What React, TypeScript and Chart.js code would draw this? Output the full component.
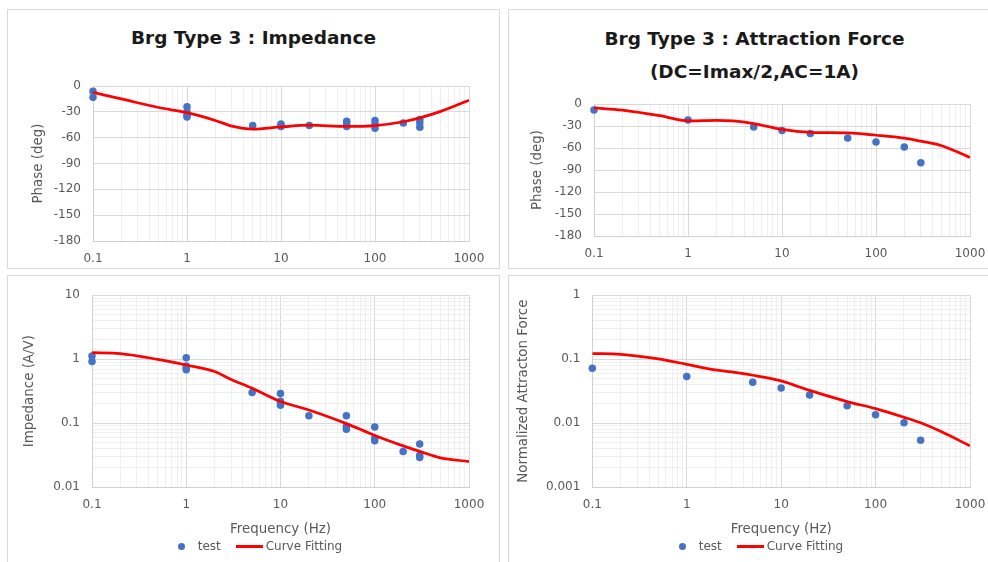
import React, { useEffect, useRef } from 'react';
import { Chart, registerables } from 'chart.js';

Chart.register(...registerables);

// ---------- data ----------
const freqTickLabels = ['0.1', '1', '10', '100', '1000'];
const phaseTickLabels = ['0', '-30', '-60', '-90', '-120', '-150', '-180'];
const impTickLabels = ['0.01', '0.1', '1', '10'];
const forceTickLabels = ['0.001', '0.01', '0.1', '1'];

const curveFreq = [0.1, 0.2, 0.5, 1, 2, 3, 5, 10, 20, 50, 100, 200, 300, 500, 1000];

// Impedance phase
const impPhaseTestFreq = [0.1, 0.1, 1, 1, 1, 1, 5, 10, 10, 10, 20, 50, 50, 50, 100, 100, 100, 200, 300, 300, 300];
const impPhaseTest = [-6, -13, -24, -30, -34, -36, -46, -44, -46, -47, -46, -41, -44, -47, -40, -44, -49, -43, -39, -43, -48];
const impPhaseCurve = [-7.5, -15, -25, -31, -40, -46.5, -50, -47.5, -45.5, -47, -46, -41.5, -37, -29.5, -16.5];

// Attraction force phase
const forcePhaseTestFreq = [0.1, 1, 5, 10, 20, 50, 100, 200, 300];
const forcePhaseTest = [-8, -21.5, -31, -36, -40, -46, -51.5, -58.5, -80];
const forcePhaseCurve = [-5, -8, -15.6, -22.8, -22, -22.8, -26.4, -34.4, -38.4, -39.3, -42.4, -46.4, -50.5, -56.7, -72.8];

// Impedance magnitude
const impMagTestFreq = [0.1, 0.1, 1, 1, 1, 1, 5, 10, 10, 10, 10, 20, 50, 50, 50, 100, 100, 100, 200, 300, 300, 300];
const impMagTest = [1.12, 0.92, 1.05, 0.78, 0.72, 0.68, 0.3, 0.29, 0.22, 0.2, 0.19, 0.13, 0.13, 0.088, 0.08, 0.087, 0.058, 0.053, 0.036, 0.047, 0.031, 0.029];
const impMagCurve = [1.26, 1.22, 0.99, 0.81, 0.64, 0.48, 0.35, 0.217, 0.16, 0.098, 0.064, 0.044, 0.036, 0.0286, 0.025];

// Normalized attraction force
const forceMagTestFreq = [0.1, 1, 5, 10, 20, 50, 100, 200, 300];
const forceMagTest = [0.072, 0.0535, 0.0435, 0.0355, 0.0276, 0.0187, 0.0135, 0.0101, 0.0054];
const forceMagCurve = [0.122, 0.119, 0.101, 0.083, 0.068, 0.063, 0.056, 0.0456, 0.0324, 0.0217, 0.0168, 0.0123, 0.0101, 0.0073, 0.0044];

// ---------- styles ----------
const FONT = '"DejaVu Sans", Verdana, sans-serif';
const BLUE = '#4472C4';
const RED = '#FF0000';
const TICK = '#595959';
const MAJOR = '#d9d9d9';
const MINOR = '#efefef';
const BORDER = '#d0d0d0';

function isDecade(v: number) {
  if (!(v > 0)) return false;
  const l = Math.log10(v);
  return Math.abs(l - Math.round(l)) < 1e-9;
}

function logTickValues(labels: string[]) {
  const lo = Math.round(Math.log10(parseFloat(labels[0])));
  const hi = Math.round(Math.log10(parseFloat(labels[labels.length - 1])));
  const out: number[] = [];
  for (let e = lo; e < hi; e++) {
    for (let m = 1; m < 10; m++) out.push(parseFloat((m * Math.pow(10, e)).toPrecision(6)));
  }
  out.push(parseFloat(labels[labels.length - 1]));
  return out;
}

function labelFor(v: number, labels: string[]) {
  for (const l of labels) {
    const n = parseFloat(l);
    if (Math.abs(n - v) <= 1e-9 * Math.max(1, Math.abs(v))) return l;
  }
  return '';
}

type ChartSpec = {
  left: number; top: number; width: number; height: number;
  padTop: number; padRight: number;
  yAxisWidth: number; yTitle: string; yTitlePad: number;
  xAxisHeight: number; xTitle?: string; xTitlePadBottom?: number;
  yLog: boolean; yLabels: string[];
  testX: number[]; testY: number[]; curveY: number[];
};

function makeConfig(p: ChartSpec): any {
  const tickFont = { family: FONT, size: 12 };
  const titleFont = { family: FONT, size: 13.4 };
  const yLabelNums = p.yLabels.map((l) => parseFloat(l));
  const yMin = Math.min(...yLabelNums);
  const yMax = Math.max(...yLabelNums);
  const yScale: any = p.yLog
    ? {
        type: 'logarithmic',
        min: yMin,
        max: yMax,
        afterBuildTicks: (s: any) => {
          s.ticks = logTickValues(p.yLabels).map((v) => ({ value: v }));
        },
        grid: {
          color: (ctx: any) => (ctx.tick && isDecade(ctx.tick.value) ? MAJOR : MINOR),
          drawTicks: false,
        },
      }
    : {
        type: 'linear',
        min: yMin,
        max: yMax,
        afterBuildTicks: (s: any) => {
          s.ticks = yLabelNums.slice().sort((a, b) => a - b).map((v) => ({ value: v }));
        },
        grid: { color: MAJOR, drawTicks: false },
      };
  Object.assign(yScale, {
    position: 'left',
    afterFit: (s: any) => {
      s.width = p.yAxisWidth;
    },
    border: { display: true, color: BORDER, width: 1 },
    ticks: {
      autoSkip: false,
      padding: 12,
      color: TICK,
      font: tickFont,
      callback: (v: any) => labelFor(Number(v), p.yLabels),
    },
    title: {
      display: true,
      text: p.yTitle,
      color: TICK,
      font: titleFont,
      padding: { top: p.yTitlePad, bottom: 0 },
    },
  });

  return {
    type: 'scatter',
    data: {
      datasets: [
        {
          label: 'test',
          data: p.testX.map((x, i) => ({ x, y: p.testY[i] })),
          backgroundColor: BLUE,
          borderColor: BLUE,
          borderWidth: 0,
          pointRadius: 3.75,
          pointHoverRadius: 3.75,
          showLine: false,
          clip: false,
          order: 1,
        },
        {
          label: 'Curve Fitting',
          type: 'line',
          data: curveFreq.map((x, i) => ({ x, y: p.curveY[i] })),
          borderColor: RED,
          backgroundColor: RED,
          borderWidth: 2.75,
          pointRadius: 0,
          pointHoverRadius: 0,
          showLine: true,
          fill: false,
          cubicInterpolationMode: 'monotone',
          order: 0,
        },
      ],
    },
    options: {
      responsive: false,
      animation: false,
      events: [],
      layout: { padding: { top: p.padTop, right: p.padRight, left: 0, bottom: 0 } },
      plugins: {
        legend: { display: false },
        tooltip: { enabled: false },
        title: { display: false },
      },
      scales: {
        x: {
          type: 'logarithmic',
          position: 'bottom',
          min: parseFloat(freqTickLabels[0]),
          max: parseFloat(freqTickLabels[freqTickLabels.length - 1]),
          afterBuildTicks: (s: any) => {
            s.ticks = logTickValues(freqTickLabels).map((v) => ({ value: v }));
          },
          afterFit: (s: any) => {
            s.height = p.xAxisHeight;
          },
          border: { display: true, color: BORDER, width: 1 },
          grid: {
            color: (ctx: any) => (ctx.tick && isDecade(ctx.tick.value) ? MAJOR : MINOR),
            drawTicks: false,
          },
          ticks: {
            autoSkip: false,
            maxRotation: 0,
            minRotation: 0,
            padding: 11,
            color: TICK,
            font: tickFont,
            callback: (v: any) => labelFor(Number(v), freqTickLabels),
          },
          title: p.xTitle
            ? {
                display: true,
                text: p.xTitle,
                color: TICK,
                font: titleFont,
                padding: { top: 0, bottom: p.xTitlePadBottom || 0 },
              }
            : { display: false },
        },
        y: yScale,
      },
    },
  };
}

function ChartCanvas({ spec }: { spec: ChartSpec }) {
  const ref = useRef<HTMLCanvasElement | null>(null);
  useEffect(() => {
    if (!ref.current) return;
    const chart = new Chart(ref.current, makeConfig(spec));
    return () => chart.destroy();
  }, []);
  return (
    <canvas
      ref={ref}
      width={spec.width}
      height={spec.height}
      style={{
        position: 'absolute',
        left: spec.left,
        top: spec.top,
        width: spec.width,
        height: spec.height,
      }}
    />
  );
}

function Legend({ x0 }: { x0: number }) {
  const cy = 546.7;
  const txt: React.CSSProperties = {
    position: 'absolute',
    top: cy - 7.5,
    height: 15,
    lineHeight: '15px',
    fontFamily: FONT,
    fontSize: 12,
    color: TICK,
    whiteSpace: 'nowrap',
  };
  return (
    <>
      <div
        style={{
          position: 'absolute',
          left: x0 - 3.75,
          top: cy - 3.75,
          width: 7.5,
          height: 7.5,
          borderRadius: '50%',
          background: BLUE,
        }}
      />
      <div style={{ ...txt, left: x0 + 16 }}>test</div>
      <div
        style={{
          position: 'absolute',
          left: x0 + 54.3,
          top: cy - 1.4,
          width: 27.3,
          height: 2.8,
          background: RED,
        }}
      />
      <div style={{ ...txt, left: x0 + 84 }}>Curve Fitting</div>
    </>
  );
}

const panelStyle = (left: number, top: number, width: number, height: number): React.CSSProperties => ({
  position: 'absolute',
  left,
  top,
  width: width - 2,
  height: height - 2,
  border: '1px solid #d9d9d9',
  background: '#ffffff',
});

const titleStyle: React.CSSProperties = {
  position: 'absolute',
  textAlign: 'center',
  fontFamily: FONT,
  fontWeight: 'bold',
  fontSize: 18.5,
  color: '#1a1a1a',
  whiteSpace: 'nowrap',
};

export default function App() {
  const specs: ChartSpec[] = [
    {
      left: 8, top: 60, width: 491, height: 205,
      padTop: 26, padRight: 30,
      yAxisWidth: 85, yTitle: 'Phase (deg)', yTitlePad: 22,
      xAxisHeight: 24,
      yLog: false, yLabels: phaseTickLabels,
      testX: impPhaseTestFreq, testY: impPhaseTest, curveY: impPhaseCurve,
    },
    {
      left: 509, top: 85, width: 491, height: 175,
      padTop: 17, padRight: 30,
      yAxisWidth: 85, yTitle: 'Phase (deg)', yTitlePad: 20.7,
      xAxisHeight: 24,
      yLog: false, yLabels: phaseTickLabels,
      testX: forcePhaseTestFreq, testY: forcePhaseTest, curveY: forcePhaseCurve,
    },
    {
      left: 8, top: 276, width: 491, height: 264,
      padTop: 10, padRight: 30,
      yAxisWidth: 84, yTitle: 'Impedance (A/V)', yTitlePad: 13.3,
      xAxisHeight: 53, xTitle: 'Frequency (Hz)', xTitlePadBottom: 2.7,
      yLog: true, yLabels: impTickLabels,
      testX: impMagTestFreq, testY: impMagTest, curveY: impMagCurve,
    },
    {
      left: 509, top: 276, width: 491, height: 264,
      padTop: 10, padRight: 30,
      yAxisWidth: 83.3, yTitle: 'Normalized Attracton Force', yTitlePad: 6.3,
      xAxisHeight: 53, xTitle: 'Frequency (Hz)', xTitlePadBottom: 2.7,
      yLog: true, yLabels: forceTickLabels,
      testX: forceMagTestFreq, testY: forceMagTest, curveY: forceMagCurve,
    },
  ];

  return (
    <div
      style={{
        position: 'absolute',
        left: 0,
        top: 0,
        width: 988,
        height: 562,
        overflow: 'hidden',
        background: '#ffffff',
      }}
    >
      <div style={panelStyle(7, 9, 493, 260)} />
      <div style={panelStyle(508, 9, 493, 260)} />
      <div style={panelStyle(7, 275, 493, 300)} />
      <div style={panelStyle(508, 275, 493, 300)} />

      <div style={{ ...titleStyle, left: 7, width: 493, top: 25.5, height: 24, lineHeight: '24px' }}>
        Brg Type 3 : Impedance
      </div>
      <div style={{ ...titleStyle, left: 508, width: 493, top: 21.5, lineHeight: '33px' }}>
        Brg Type 3 : Attraction Force
        <br />
        (DC=Imax/2,AC=1A)
      </div>

      {specs.map((s, i) => (
        <ChartCanvas key={i} spec={s} />
      ))}

      <Legend x0={181.7} />
      <Legend x0={682.7} />
    </div>
  );
}
